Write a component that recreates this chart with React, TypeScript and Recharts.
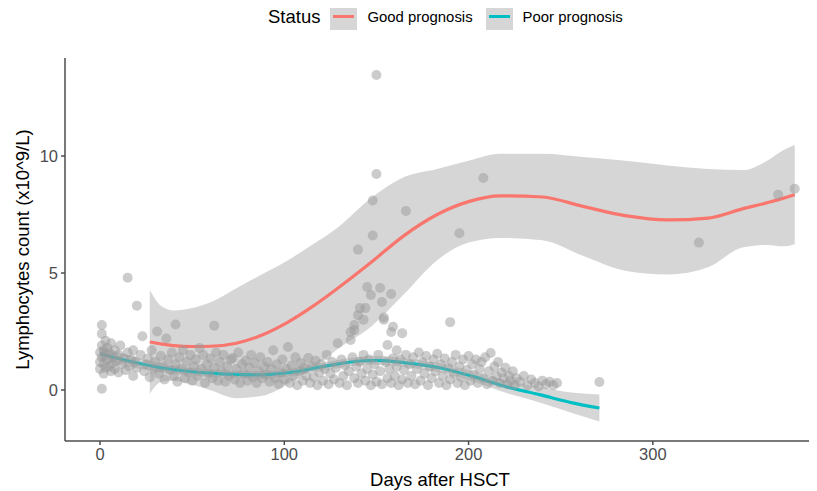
import React from 'react';
import { ComposedChart, Scatter, Line, Area, XAxis, YAxis, Legend } from 'recharts';

const FONT = '"Liberation Sans", Arial, Helvetica, sans-serif';
const GOOD_COLOR = '#F8766D';
const POOR_COLOR = '#00BFC4';
const BAND_FILL = '#999999';

const statusLabels = ['Good prognosis', 'Poor prognosis'];
const xTicks = [0, 100, 200, 300];
const yTicks = [0, 5, 10];

// Individual lymphocyte measurements: [day after HSCT, count x10^9/L]
const observations: [number, number][] = [
  [0, 1.6], [0, 1.2], [0, 0.9], [1, 2.4], [1, 2.78], [1, 1.9], [1, 1.4], [1, 0.05], [2, 1.7], [2, 1.1],
  [2, 0.7], [3, 2.1], [3, 1.5], [3, 0.95], [4, 1.8], [4, 1.3], [5, 1.0], [5, 1.6], [6, 2.0], [6, 0.8],
  [7, 1.4], [7, 1.15], [8, 1.7], [8, 0.9], [9, 1.25], [10, 1.5], [10, 0.75], [11, 1.9], [12, 1.1], [13, 1.35],
  [14, 0.85], [15, 4.8], [15, 1.6], [16, 1.0], [17, 1.3], [18, 1.7], [18, 0.6], [19, 1.2], [20, 3.6], [20, 0.95],
  [22, 1.5], [23, 2.3], [24, 0.8], [25, 1.1], [26, 1.35], [27, 0.55], [28, 1.7], [29, 0.9], [30, 1.2], [31, 2.5],
  [32, 0.7], [33, 1.45], [34, 1.0], [35, 0.45], [36, 2.2], [37, 1.3], [38, 0.85], [39, 1.6], [40, 0.6], [41, 2.8],
  [41, 1.1], [42, 0.35], [43, 1.4], [44, 0.9], [45, 1.7], [46, 0.5], [47, 1.2], [48, 0.75], [49, 1.5], [50, 0.4],
  [51, 1.0], [52, 1.3], [53, 0.6], [54, 1.8], [55, 0.9], [56, 1.5], [57, 0.3], [58, 1.1], [59, 0.7], [60, 1.35],
  [61, 0.5], [62, 2.75], [62, 0.95], [63, 1.6], [64, 0.4], [65, 1.2], [66, 0.8], [67, 1.5], [68, 0.35], [69, 1.0],
  [70, 0.6], [71, 1.3], [72, 1.37], [73, 0.45], [74, 0.9], [75, 1.6], [76, 0.3], [77, 1.1], [78, 0.7], [79, 1.25],
  [80, 0.4], [81, 0.95], [82, 1.5], [83, 0.55], [84, 1.15], [85, 0.3], [86, 0.8], [87, 1.4], [88, 0.5], [89, 1.0],
  [90, 0.65], [91, 1.2], [92, 0.35], [93, 0.9], [94, 1.7], [95, 0.5], [96, 1.1], [97, 0.25], [98, 0.75], [99, 1.3],
  [100, 0.45], [101, 0.9], [102, 1.84], [103, 0.3], [104, 1.05], [105, 0.6], [106, 1.4], [107, 0.2], [108, 0.8], [109, 1.15],
  [110, 0.4], [111, 0.95], [112, 0.6], [113, 1.37], [114, 0.3], [115, 1.0], [116, 0.55], [117, 1.25], [118, 0.2], [119, 0.75],
  [120, 1.1], [121, 0.4], [122, 0.9], [123, 1.5], [124, 0.25], [125, 0.7], [126, 1.2], [127, 0.45], [128, 0.95], [129, 2.0],
  [130, 0.3], [131, 1.3], [132, 0.6], [133, 1.05], [134, 0.2], [135, 0.8], [136, 2.14], [136, 2.48], [137, 1.4], [138, 2.56],
  [138, 2.78], [138, 0.5], [139, 1.0], [140, 3.2], [140, 6.0], [140, 0.3], [141, 3.5], [141, 1.2], [142, 0.7], [143, 3.0],
  [143, 1.5], [144, 3.5], [144, 0.4], [145, 4.4], [145, 0.9], [146, 1.3], [147, 4.06], [147, 0.2], [148, 8.1], [148, 6.6],
  [148, 0.65], [149, 1.1], [150, 9.23], [150, 13.46], [150, 0.35], [151, 1.5], [152, 4.36], [152, 0.8], [153, 3.76], [153, 0.25],
  [154, 3.0], [154, 3.1], [155, 1.2], [156, 1.92], [156, 0.5], [157, 0.9], [158, 4.1], [158, 2.48], [158, 0.3], [159, 2.7],
  [159, 1.35], [160, 0.6], [161, 1.7], [161, 1.0], [162, 0.2], [163, 1.3], [164, 2.43], [164, 0.45], [165, 0.85], [166, 7.65],
  [166, 1.5], [167, 0.3], [168, 1.1], [169, 0.6], [170, 1.4], [171, 0.25], [172, 0.9], [173, 1.6], [174, 0.4], [175, 1.2],
  [176, 0.7], [177, 1.45], [178, 0.2], [179, 1.0], [180, 0.5], [181, 1.3], [182, 0.8], [183, 1.55], [184, 0.3], [185, 1.1],
  [186, 0.6], [187, 1.35], [188, 0.2], [189, 0.95], [190, 2.9], [190, 0.45], [191, 1.2], [192, 0.7], [193, 1.5], [194, 0.3],
  [195, 6.7], [195, 1.0], [196, 0.55], [197, 1.3], [198, 0.2], [199, 0.85], [200, 1.45], [201, 0.4], [202, 1.1], [203, 0.65],
  [204, 1.3], [205, 0.3], [206, 0.9], [207, 1.2], [208, 9.06], [208, 0.5], [209, 1.4], [210, 0.25], [211, 0.8], [212, 1.58],
  [213, 0.4], [214, 1.0], [215, 0.6], [216, 1.2], [217, 0.3], [218, 0.75], [219, 0.5], [220, 0.95], [221, 0.25], [222, 0.6],
  [223, 0.4], [224, 0.8], [225, 0.2], [226, 0.5], [228, 0.35], [230, 0.6], [232, 0.2], [234, 0.45], [236, 0.3], [238, 0.15],
  [240, 0.4], [242, 0.25], [244, 0.35], [246, 0.2], [248, 0.3], [271, 0.34], [325, 6.3], [368, 8.35], [377, 8.6],
];

// Smoothed trend and confidence band, good prognosis
const goodDays = [27, 33, 40, 50, 60, 74, 88, 102, 115, 129, 147, 165, 183, 200, 217, 240, 262, 285, 308, 330, 349, 362, 371, 377];
const goodFit = [2.05, 1.97, 1.9, 1.86, 1.87, 2.0, 2.35, 2.9, 3.55, 4.35, 5.45, 6.6, 7.5, 8.05, 8.3, 8.25, 7.85, 7.45, 7.27, 7.35, 7.75, 8.0, 8.2, 8.35];
const goodUpper = [4.27, 3.6, 3.4, 3.5, 3.75, 4.35, 4.95, 5.55, 6.2, 6.95, 8.2, 9.1, 9.45, 9.8, 10.1, 10.1, 9.96, 9.8, 9.6, 9.45, 9.4, 9.8, 10.26, 10.47];
const goodLower = [-0.17, 0.34, 0.4, 0.22, -0.01, -0.35, -0.25, 0.25, 0.9, 1.75, 2.7, 4.1, 5.55, 6.3, 6.5, 6.4, 5.74, 5.1, 4.94, 5.25, 6.1, 6.2, 6.14, 6.23];

// Smoothed trend and confidence band, poor prognosis
const poorDays = [0, 15, 33, 50, 69, 87, 105, 123, 141, 150, 167, 185, 203, 221, 239, 257, 271];
const poorFit = [1.55, 1.25, 0.95, 0.78, 0.68, 0.65, 0.77, 1.03, 1.24, 1.27, 1.15, 0.94, 0.56, 0.13, -0.21, -0.56, -0.77];
const poorUpper = [1.85, 1.5, 1.15, 0.95, 0.84, 0.81, 0.93, 1.2, 1.42, 1.46, 1.34, 1.14, 0.78, 0.4, 0.12, -0.12, -0.19];
const poorLower = [1.25, 1.0, 0.75, 0.61, 0.52, 0.49, 0.61, 0.86, 1.06, 1.08, 0.96, 0.74, 0.34, -0.14, -0.54, -1.0, -1.35];

const pointData = observations.map(([x, y]) => ({ x, y }));
const goodLine = goodDays.map((x, i) => ({ x, y: goodFit[i] }));
const goodBand = goodDays.map((x, i) => ({ x, band: [goodLower[i], goodUpper[i]] }));
const poorLine = poorDays.map((x, i) => ({ x, y: poorFit[i] }));
const poorBand = poorDays.map((x, i) => ({ x, band: [poorLower[i], poorUpper[i]] }));

const PointShape = (props: any) => (
  <circle cx={props.cx} cy={props.cy} r={5} fill="#9a9a9a" fillOpacity={0.5} />
);

const LegendKey = ({ color }: { color: string }) => (
  <svg width={27} height={27} style={{ display: 'block' }}>
    <rect x={0} y={0} width={27} height={27} fill="#d6d6d6" />
    <line x1={3} x2={24} y1={13.5} y2={13.5} stroke={color} strokeWidth={3} />
  </svg>
);

const StatusLegend = () => (
  <div
    style={{
      height: 50,
      display: 'flex',
      alignItems: 'flex-start',
      justifyContent: 'flex-start',
      fontFamily: FONT,
      paddingLeft: 260,
      boxSizing: 'border-box',
    }}
  >
    <div style={{ display: 'flex', alignItems: 'center', height: 27 }}>
      <span style={{ fontSize: 18.5, color: '#000', marginRight: 10 }}>Status</span>
      <LegendKey color={GOOD_COLOR} />
      <span style={{ fontSize: 14.9, color: '#000', marginLeft: 10, marginRight: 13 }}>{statusLabels[0]}</span>
      <LegendKey color={POOR_COLOR} />
      <span style={{ fontSize: 14.9, color: '#000', marginLeft: 10 }}>{statusLabels[1]}</span>
    </div>
  </div>
);

const YTitle = (props: any) => {
  const { viewBox } = props;
  const cx = viewBox.x + 14;
  const cy = viewBox.y + viewBox.height / 2;
  return (
    <text
      x={cx}
      y={cy}
      transform={`rotate(-90, ${cx}, ${cy})`}
      textAnchor="middle"
      dominantBaseline="central"
      fontFamily={FONT}
      fontSize={18.5}
      fill="#000"
    >
      Lymphocytes count (x10^9/L)
    </text>
  );
};

const XTitle = (props: any) => {
  const { viewBox } = props;
  return (
    <text
      x={viewBox.x + viewBox.width / 2}
      y={viewBox.y + 45}
      textAnchor="middle"
      fontFamily={FONT}
      fontSize={18.5}
      fill="#000"
    >
      Days after HSCT
    </text>
  );
};

const axisLineStyle = { stroke: '#4d4d4d', strokeWidth: 1.5 };
const tickStyle = { fontFamily: FONT, fontSize: 16.5, fill: '#4d4d4d' };

export default function App() {
  return (
    <ComposedChart
      width={809}
      height={483}
      margin={{ top: 0, right: 2, bottom: 0, left: 0 }}
      style={{ background: '#fff' }}
    >
      <Legend
        verticalAlign="top"
        align="center"
        wrapperStyle={{ top: -5, left: 0, width: 809 }}
        content={() => <StatusLegend />}
      />
      <XAxis
        type="number"
        dataKey="x"
        domain={[-19, 388]}
        ticks={xTicks}
        allowDataOverflow
        height={50}
        axisLine={axisLineStyle}
        tickLine={axisLineStyle}
        tickSize={4}
        tickMargin={3}
        tick={tickStyle}
        label={<XTitle />}
      />
      <YAxis
        type="number"
        domain={[-2.18, 14.19]}
        ticks={yTicks}
        allowDataOverflow
        width={57}
        axisLine={axisLineStyle}
        tickLine={axisLineStyle}
        tickSize={4}
        tickMargin={3}
        tick={tickStyle}
        label={<YTitle />}
      />
      <Scatter
        data={pointData}
        dataKey="y"
        shape={PointShape}
        isAnimationActive={false}
        legendType="none"
      />
      <Area
        data={goodBand}
        dataKey="band"
        type="monotone"
        stroke="none"
        fill={BAND_FILL}
        fillOpacity={0.4}
        isAnimationActive={false}
        legendType="none"
      />
      <Area
        data={poorBand}
        dataKey="band"
        type="monotone"
        stroke="none"
        fill={BAND_FILL}
        fillOpacity={0.4}
        isAnimationActive={false}
        legendType="none"
      />
      <Line
        data={goodLine}
        dataKey="y"
        type="monotone"
        stroke={GOOD_COLOR}
        strokeWidth={3.2}
        dot={false}
        isAnimationActive={false}
        name={statusLabels[0]}
      />
      <Line
        data={poorLine}
        dataKey="y"
        type="monotone"
        stroke={POOR_COLOR}
        strokeWidth={3.2}
        dot={false}
        isAnimationActive={false}
        name={statusLabels[1]}
      />
    </ComposedChart>
  );
}
